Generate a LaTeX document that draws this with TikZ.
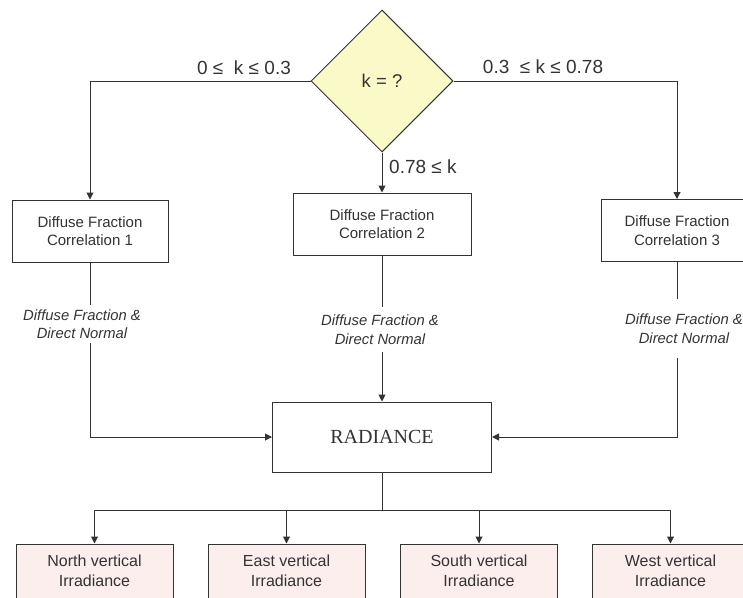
\documentclass[tikz,border=0pt]{standalone}
\usepackage{fontspec}
\setmainfont{Liberation Sans}
\newfontfamily\timesfont{Liberation Serif}
\usetikzlibrary{shapes.geometric,arrows.meta}
\definecolor{ln}{HTML}{333333}
\definecolor{txt}{HTML}{333333}
\definecolor{dfill}{HTML}{FAFAC8}
\definecolor{pfill}{HTML}{FDEEEE}
\tikzset{
  box/.style={draw=ln, line width=1pt, fill=white, rectangle, align=center, text=txt,
    inner sep=0pt, font=\fontsize{15}{18.5}\selectfont},
  outbox/.style={box, fill=pfill, minimum width=157pt, minimum height=54pt,
    font=\fontsize{16}{20}\selectfont},
  lbl/.style={align=center, text=txt, inner sep=0pt, font=\fontsize{14.8}{18.5}\selectfont\itshape},
  cond/.style={text=txt, inner sep=0pt, font=\fontsize{19}{21}\selectfont},
  conn/.style={draw=ln, line width=1pt},
  arr/.style={conn, -{Triangle[length=7pt,width=7pt]}}
}
\begin{document}
\begin{tikzpicture}[x=1pt,y=-1pt]
\useasboundingbox (0,0) rectangle (743,597);
% decision
\node[diamond, draw=ln, line width=1pt, fill=dfill, minimum width=142pt, minimum height=142pt,
  inner sep=0pt, text=txt, font=\fontsize{18.5}{20}\selectfont] (dia) at (382,81) {k = ?};
% correlation boxes
\node[box, minimum width=156pt, minimum height=62pt] (b1) at (90,231) {Diffuse Fraction\\Correlation 1};
\node[box, minimum width=178pt, minimum height=62pt] (b2) at (382,224) {Diffuse Fraction\\Correlation 2};
\node[box, minimum width=152pt, minimum height=62pt] (b3) at (677,230.5) {Diffuse Fraction\\Correlation 3};
% radiance
\node[box, minimum width=219pt, minimum height=70pt, font=\fontsize{20}{22}\timesfont] (rad) at (382,437) {RADIANCE};
% condition labels
\node[cond] (c1) at (244,68) {0 ≤ \ k ≤ 0.3};
\node[cond] (c2) at (543,67) {0.3 \ ≤ k ≤ 0.78};
\node[cond, anchor=west] (c3) at (389,167) {0.78 ≤ k};
% flow labels
\node[lbl, minimum height=38pt] (l1) at (82,324) {Diffuse Fraction \&\\Direct Normal};
\node[lbl, minimum height=45pt] (l2) at (380,329.5) {Diffuse Fraction \&\\Direct Normal};
\node[lbl, minimum height=59pt] (l3) at (684,328.5) {Diffuse Fraction \&\\Direct Normal};
% output boxes
\node[outbox] (n1) at (94.5,571) {North vertical\\Irradiance};
\node[outbox] (n2) at (286.5,571) {East vertical\\Irradiance};
\node[outbox] (n3) at (479,571) {South vertical\\Irradiance};
\node[outbox] (n4) at (670.5,571) {West vertical\\Irradiance};
% connectors
\draw[arr] (dia.west) -| (b1.north);
\draw[arr] (dia.east) -| (b3.north);
\draw[arr] (dia.south) -- (b2.north);
\draw[conn] (b1.south) -- (b1.south |- l1.north);
\draw[arr] (b1.south |- l1.south) |- (rad.west);
\draw[conn] (b2.south) -- (b2.south |- l2.north);
\draw[arr] (b2.south |- l2.south) -- (rad.north);
\draw[conn] (b3.south) -- (b3.south |- l3.north);
\draw[arr] (b3.south |- l3.south) |- (rad.east);
\coordinate (j) at (382,510);
\draw[conn] (rad.south) -- (j);
\draw[arr] (j) -| (n1.north);
\draw[arr] (j) -| (n2.north);
\draw[arr] (j) -| (n3.north);
\draw[arr] (j) -| (n4.north);
\end{tikzpicture}
\end{document}
